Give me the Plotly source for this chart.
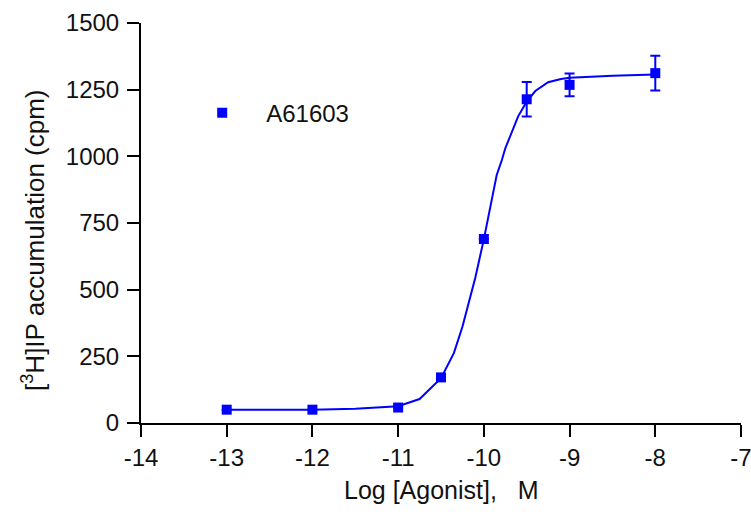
import plotly.graph_objects as go

# Data
log_agonist = [-13, -12, -11, -10.5, -10, -9.5, -9, -8]
ip_accum = [50, 50, 58, 171, 690, 1214, 1268, 1312]
ip_err = [0, 0, 0, 0, 0, 65, 43, 65]

# Fitted curve
curve_x = [-13, -12, -11.5, -11, -10.75, -10.5, -10.35, -10.25, -10.1, -10, -9.9, -9.85,
           -9.79, -9.75, -9.6, -9.5, -9.4, -9.3, -9.25, -9.1, -9, -8.5, -8]
curve_y = [50, 50, 53, 63, 90, 168, 262, 361, 545, 689, 850, 930,
           986, 1030, 1150, 1205, 1245, 1265, 1278, 1290, 1295, 1302, 1307]

x_ticks = [-14, -13, -12, -11, -10, -9, -8, -7]
y_ticks = [0, 250, 500, 750, 1000, 1250, 1500]

blue = "#0000FF"
font = "Liberation Sans, Arial, sans-serif"
txt = "#111111"

fig = go.Figure()
fig.add_trace(go.Scatter(x=curve_x, y=curve_y, mode="lines",
                         line=dict(color=blue, width=2), showlegend=False,
                         hoverinfo="skip"))
fig.add_trace(go.Scatter(x=log_agonist, y=ip_accum, mode="markers", name="A61603",
                         marker=dict(symbol="square", size=10, color=blue),
                         error_y=dict(type="data", array=ip_err, visible=True,
                                      color=blue, thickness=2, width=5)))

fig.update_layout(
    width=751, height=516,
    margin=dict(l=141, r=10, t=23, b=93),
    paper_bgcolor="white", plot_bgcolor="white",
    font=dict(family=font, size=24, color=txt),
    showlegend=True,
    legend=dict(x=0.062, y=0.831, xanchor="left", yanchor="top", itemwidth=78,
                bgcolor="rgba(0,0,0,0)", font=dict(size=24, color=txt)),
)
fig.update_xaxes(range=[-14, -7], tickvals=x_ticks, ticktext=[str(v) for v in x_ticks],
                 showgrid=False, zeroline=False, showline=True, linecolor="black", linewidth=2,
                 ticks="outside", ticklen=12, tickwidth=2, tickcolor="black",
                 ticklabelstandoff=0, ticklabeloverflow="allow", automargin=False)
fig.update_yaxes(range=[0, 1500], tickvals=y_ticks,
                 showgrid=False, zeroline=False, showline=True, linecolor="black", linewidth=2,
                 ticks="outside", ticklen=12, tickwidth=2, tickcolor="black",
                 ticklabelstandoff=3, ticklabeloverflow="allow", automargin=False)

fig.add_annotation(text="Log [Agonist],\u00a0\u00a0\u00a0M", xref="paper", yref="paper",
                   x=0.5, y=-0.1675, yanchor="middle", xanchor="center", showarrow=False,
                   font=dict(size=25, color=txt))
fig.add_annotation(text="[<sup>3</sup>H]IP accumulation (cpm)", xref="paper", yref="paper",
                   x=-0.18, y=0.4575, textangle=-90, xanchor="center", yanchor="middle",
                   showarrow=False, font=dict(size=26, color=txt))

fig.write_html("out.html", config={"displayModeBar": False},
               post_script="document.body.style.margin='0';document.body.style.overflow='hidden';")
